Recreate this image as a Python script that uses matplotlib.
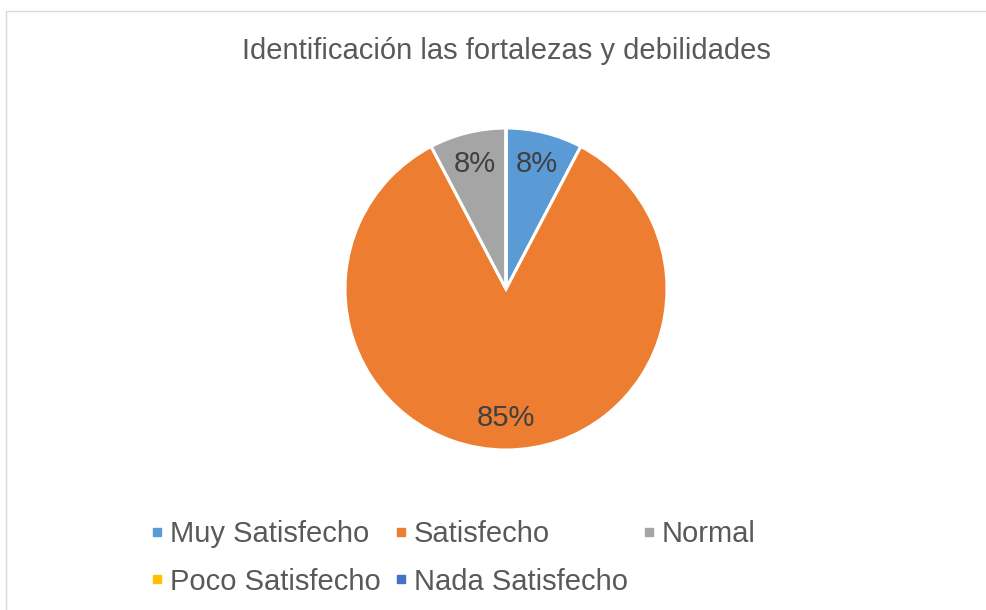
import matplotlib
matplotlib.use("Agg")
import matplotlib.pyplot as plt
from matplotlib.lines import Line2D
from matplotlib.patches import Rectangle

categories = ["Muy Satisfecho", "Satisfecho", "Normal", "Poco Satisfecho", "Nada Satisfecho"]
values = [1, 11, 1, 0, 0]
colors = ["#5B9BD5", "#ED7D31", "#A5A5A5", "#FFC000", "#4472C4"]
title = "Identificación las fortalezas y debilidades"

plt.rcParams["font.family"] = ["Liberation Sans", "DejaVu Sans"]
W, H = 986, 610
fig = plt.figure(figsize=(W / 100, H / 100), dpi=100)

# chart frame
fig.patches.append(Rectangle((6 / W, -0.1), 1.2, 1 - 11 / H + 0.1, transform=fig.transFigure,
                             facecolor="white", edgecolor="#D9D9D9", linewidth=1.0, zorder=-5))

cx, cy, r = 506, 289, 161
ax = fig.add_axes([(cx - r) / W, (H - cy - r) / H, 2 * r / W, 2 * r / H])
ax.set_zorder(2)


def fmt(p):
    return "" if p < 0.5 else f"{p:.0f}%"


wedges, texts, autotexts = ax.pie(values, colors=colors, startangle=90, counterclock=False,
                                  autopct=fmt, pctdistance=0.8, radius=1,
                                  wedgeprops=dict(edgecolor="white", linewidth=2.2),
                                  textprops=dict(color="#404040", fontsize=21))
ax.set_xlim(-1, 1)
ax.set_ylim(-1, 1)
ax.set_aspect("auto")
ax.axis("off")

fig.text(cx / W, 1 - 51 / H, title, ha="center", va="center", fontsize=21, color="#595959")

handles = [Line2D([], [], marker="s", linestyle="", color=c, markersize=6) for c in colors]
order = [0, 3, 1, 4, 2]
leg = fig.legend([handles[i] for i in order], [categories[i] for i in order],
                 ncol=3, loc="center left", bbox_to_anchor=(152 / W, 1 - 558 / H),
                 frameon=False, fontsize=21, labelcolor="#595959",
                 handlelength=0.35, handletextpad=0.25, columnspacing=0.55,
                 labelspacing=0.66, borderpad=0, borderaxespad=0)

fig.savefig("out.png", dpi=100)
